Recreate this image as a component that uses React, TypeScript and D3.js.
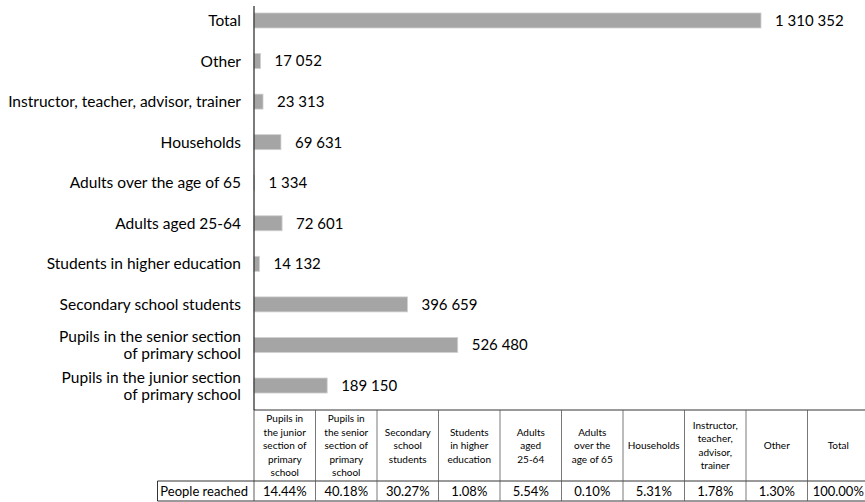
import React from "react";
import * as d3 from "d3";

const categories = [
  "Pupils in the junior section\nof primary school",
  "Pupils in the senior section\nof primary school",
  "Secondary school students",
  "Students in higher education",
  "Adults aged 25-64",
  "Adults over the age of 65",
  "Households",
  "Instructor, teacher, advisor, trainer",
  "Other",
  "Total",
];
const values = [189150, 526480, 396659, 14132, 72601, 1334, 69631, 23313, 17052, 1310352];
const tableHeaders = [
  "Pupils in\nthe junior\nsection of\nprimary\nschool",
  "Pupils in\nthe senior\nsection of\nprimary\nschool",
  "Secondary\nschool\nstudents",
  "Students\nin higher\neducation",
  "Adults\naged\n25-64",
  "Adults\nover the\nage of 65",
  "Households",
  "Instructor,\nteacher,\nadvisor,\ntrainer",
  "Other",
  "Total",
];
const rowLabel = "People reached";
const percents = ["14.44%", "40.18%", "30.27%", "1.08%", "5.54%", "0.10%", "5.31%", "1.78%", "1.30%", "100.00%"];

const W = 865;
const H = 502;
const FONT = "Lato, 'Open Sans', sans-serif";

const fmt = (v: number) => d3.format(",")(v).replace(/,/g, " ");

export default function App() {
  const x0 = 254;
  const x = d3.scaleLinear().domain([0, 1400000]).range([x0, x0 + 507 * 1400000 / 1310352]);
  const order = [...categories].reverse();
  const y = d3.scaleBand<string>().domain(order).range([0.2, 405.8]).paddingInner(0.63).paddingOuter(0.315);

  const tableTop = 410;
  const headerBottom = 481;
  const tableBottom = 501;
  const colW = 61.5;
  const col = d3.scaleBand<number>().domain(d3.range(10)).range([x0, x0 + colW * 10]);
  const stroke = "#000";

  return (
    <svg width={W} height={H} style={{ position: "absolute", left: 0, top: 0, background: "#fff" }} fontFamily={FONT}>
      {categories.map((c, i) => {
        const yy = y(c)!;
        const bh = y.bandwidth();
        const lines = c.split("\n");
        const cy = yy + bh / 2;
        const lh = 17;
        return (
          <g key={c}>
            <rect x={x(0)} y={yy} width={x(values[i]) - x(0)} height={bh} fill="#a5a5a5" stroke="#d0d0d0" strokeWidth={0.8} />
            <text x={x(values[i]) + 14} y={cy} dy="0.36em" fontSize={15} fill="#000">{fmt(values[i])}</text>
            <text textAnchor="end" fontSize={15.5} fill="#000">
              {lines.map((l, k) => (
                <tspan key={k} x={241} y={cy + (k - (lines.length - 1) / 2) * lh} dy="0.36em">{l}</tspan>
              ))}
            </text>
          </g>
        );
      })}
      <line x1={x0} x2={x0} y1={6} y2={tableTop} stroke="#333" strokeWidth={1.3} />
      <g fill="none" stroke={stroke} strokeWidth={0.8}>
        <line x1={x0} x2={x0 + colW * 10} y1={tableTop} y2={tableTop} />
        <line x1={157.5} x2={x0 + colW * 10} y1={headerBottom} y2={headerBottom} />
        <line x1={157.5} x2={x0 + colW * 10} y1={tableBottom} y2={tableBottom} />
        <line x1={157.5} x2={157.5} y1={headerBottom} y2={tableBottom} />
        {d3.range(11).map((k) => (
          <line key={k} x1={x0 + k * colW} x2={x0 + k * colW} y1={tableTop} y2={tableBottom} stroke={k === 0 ? "#333" : "#555"} />
        ))}
      </g>
      {tableHeaders.map((h, k) => {
        const lines = h.split("\n");
        const cx = col(k)! + colW / 2;
        const cy = (tableTop + headerBottom) / 2;
        const lh = 13.5;
        return (
          <text key={k} textAnchor="middle" fontSize={10} fill="#000">
            {lines.map((l, j) => (
              <tspan key={j} x={cx} y={cy + (j - (lines.length - 1) / 2) * lh} dy="0.36em">{l}</tspan>
            ))}
          </text>
        );
      })}
      <text x={248} y={(headerBottom + tableBottom) / 2} dy="0.36em" textAnchor="end" fontSize={13} fill="#000">{rowLabel}</text>
      {percents.map((p, k) => (
        <text key={k} x={col(k)! + colW / 2} y={(headerBottom + tableBottom) / 2} dy="0.36em" textAnchor="middle" fontSize={13} fill="#000">{p}</text>
      ))}
    </svg>
  );
}
